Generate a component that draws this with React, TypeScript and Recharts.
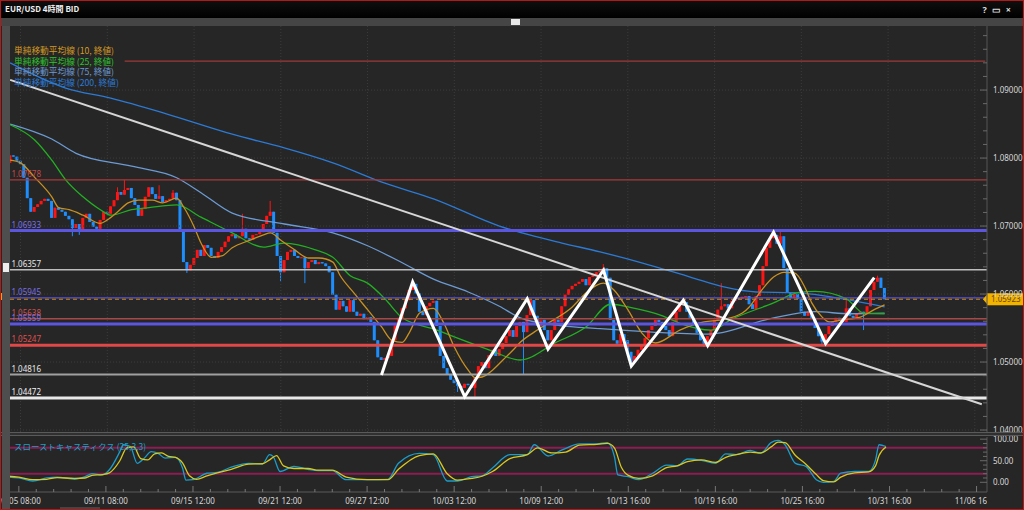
import React from "react";
import { Bar, ComposedChart, Line, ReferenceLine, XAxis, YAxis } from "recharts";

const FONT = "'Noto Sans', 'Noto Sans CJK JP', sans-serif";
const JP = "'Noto Sans CJK JP', 'Noto Sans', sans-serif";

// 4h candles, open = previous close
const firstOpen = 1.0793;
const closes = [
  1.0804, 1.0802, 1.0796, 1.0791, 1.0771, 1.0741, 1.0721, 1.0728, 1.0732, 1.0737,
  1.074, 1.0737, 1.0712, 1.0727, 1.0724, 1.0721, 1.0715, 1.071, 1.0697, 1.0703,
  1.0694, 1.0712, 1.0718, 1.0706, 1.0699, 1.0696, 1.0709, 1.0721, 1.0718, 1.0729,
  1.0738, 1.075, 1.0746, 1.0753, 1.0756, 1.0741, 1.0731, 1.0715, 1.0725, 1.0743,
  1.0757, 1.0747, 1.074, 1.0744, 1.0735, 1.0738, 1.074, 1.0749, 1.0738, 1.0694,
  1.0647, 1.0635, 1.0643, 1.0653, 1.0665, 1.0656, 1.0672, 1.0668, 1.0656, 1.0653,
  1.0662, 1.0669, 1.0677, 1.0685, 1.0688, 1.0682, 1.0685, 1.0696, 1.0682, 1.068,
  1.0687, 1.0688, 1.0691, 1.0703, 1.0715, 1.0721, 1.069, 1.0656, 1.0632, 1.065,
  1.0662, 1.0665, 1.0656, 1.0653, 1.0654, 1.0638, 1.0647, 1.065, 1.0644, 1.0647,
  1.0645, 1.0641, 1.0632, 1.0599, 1.0577, 1.059, 1.0582, 1.0574, 1.0591, 1.0574,
  1.0568, 1.0571, 1.0563, 1.0566, 1.0559, 1.0532, 1.0507, 1.0503, 1.0506, 1.0509,
  1.0532, 1.0554, 1.0565, 1.0579, 1.0591, 1.0606, 1.0615, 1.0601, 1.0574, 1.0569,
  1.0582, 1.0587, 1.059, 1.0553, 1.0509, 1.0491, 1.0482, 1.0474, 1.0469, 1.0465,
  1.0462, 1.0468, 1.0466, 1.0462, 1.0477, 1.0494, 1.05, 1.0491, 1.051, 1.0518,
  1.0509, 1.0519, 1.0528, 1.0538, 1.0547, 1.0537, 1.0553, 1.0559, 1.0544, 1.0569,
  1.0591, 1.0568, 1.0553, 1.0562, 1.0547, 1.0532, 1.0547, 1.0562, 1.0559, 1.0582,
  1.0599, 1.0607, 1.0612, 1.0615, 1.0618, 1.0622, 1.0613, 1.0625, 1.0628, 1.0632,
  1.0634, 1.0638, 1.0624, 1.0562, 1.0532, 1.0527, 1.0541, 1.0532, 1.0515, 1.05,
  1.0509, 1.0518, 1.0525, 1.0535, 1.0547, 1.0553, 1.0562, 1.0559, 1.0553, 1.0547,
  1.0538, 1.0559, 1.0574, 1.0584, 1.0588, 1.0574, 1.0565, 1.0554, 1.0543, 1.0532,
  1.0527, 1.0538, 1.0547, 1.0562, 1.0577, 1.0582, 1.0585, 1.0579, 1.059, 1.0594,
  1.0593, 1.0596, 1.0597, 1.0585, 1.0578, 1.0597, 1.0613, 1.0641, 1.0668, 1.0682,
  1.0687, 1.0674, 1.0685, 1.0638, 1.0603, 1.0594, 1.06, 1.0593, 1.0574, 1.0568,
  1.0574, 1.0565, 1.055, 1.0538, 1.053, 1.0541, 1.0553, 1.0559, 1.0565, 1.0562,
  1.0559, 1.0579, 1.0568, 1.0565, 1.0571, 1.0574, 1.0571, 1.0582, 1.0606, 1.0618,
  1.0624, 1.0609, 1.05923,
];
const wickHighs = [
  [31, 1.0757], [33, 1.0768], [43, 1.076], [47, 1.0753], [67, 1.0718], [75, 1.0737],
  [116, 1.0619], [171, 1.0644], [194, 1.0594], [205, 1.0616], [220, 1.0694],
  [222, 1.0693], [241, 1.0594], [250, 1.0627],
];
const wickLows = [
  [18, 1.0685], [20, 1.0687], [51, 1.0631], [78, 1.0619], [85, 1.0616], [129, 1.0456],
  [134, 1.0449], [148, 1.0481], [179, 1.0494], [200, 1.0522], [234, 1.0524], [246, 1.0547],
];

// moving averages, read at candle index
const sma10 = [
  [0, 1.0797], [3, 1.0793], [7, 1.0772], [12, 1.0743], [14, 1.0727], [17, 1.0724], [21, 1.0716],
  [26, 1.0704], [28, 1.0709], [31, 1.0721], [34, 1.0734], [37, 1.0738], [41, 1.0738], [44, 1.0734],
  [48, 1.0741], [50, 1.0728], [53, 1.0699], [55, 1.0675], [58, 1.0654], [61, 1.0656], [64, 1.0668],
  [69, 1.0679], [73, 1.0687], [75, 1.069], [78, 1.0679], [82, 1.0665], [86, 1.0653], [89, 1.0653],
  [93, 1.0647], [95, 1.0628], [99, 1.0602], [103, 1.0577], [107, 1.0552], [110, 1.0532], [113, 1.0529],
  [115, 1.0543], [118, 1.0572], [122, 1.0579], [125, 1.0557], [128, 1.0522], [132, 1.0488],
  [134, 1.0477], [136, 1.0478], [139, 1.0488], [142, 1.0503], [145, 1.0518], [147, 1.0529],
  [151, 1.0544], [155, 1.0557], [162, 1.0581], [166, 1.0602], [171, 1.0616], [174, 1.0606],
  [178, 1.0577], [182, 1.0543], [186, 1.0528], [193, 1.0547], [200, 1.0559], [205, 1.0562],
  [211, 1.0572], [213, 1.0581], [216, 1.0602], [220, 1.0625], [223, 1.0632], [226, 1.0631],
  [229, 1.061], [231, 1.0587], [234, 1.0566], [236, 1.0559], [240, 1.0562], [245, 1.0566],
  [249, 1.0577], [252, 1.0584],
];
const sma25 = [
  [0, 1.0849], [7, 1.0827], [12, 1.0797], [16, 1.0768], [21, 1.0743], [26, 1.0724], [29, 1.0716],
  [35, 1.0724], [40, 1.0727], [48, 1.0731], [55, 1.0713], [64, 1.069], [73, 1.0669], [79, 1.0675],
  [88, 1.0665], [93, 1.0654], [98, 1.0627], [103, 1.0616], [108, 1.0593], [113, 1.0565],
  [123, 1.0547], [128, 1.0537], [138, 1.0518], [147, 1.0503], [157, 1.0528], [166, 1.0552],
  [173, 1.0585], [179, 1.058], [188, 1.0568], [193, 1.0557], [202, 1.0547], [208, 1.0563],
  [220, 1.0587], [227, 1.0602], [232, 1.0604], [241, 1.0593], [246, 1.0572], [252, 1.0571],
];
const sma75 = [
  [0, 1.085], [12, 1.0828], [19, 1.0807], [35, 1.0788], [48, 1.0771], [55, 1.0749], [64, 1.0719],
  [79, 1.0703], [93, 1.069], [103, 1.0671], [113, 1.0646], [122, 1.0622], [132, 1.0603],
  [141, 1.0582], [147, 1.0565], [158, 1.0554], [170, 1.0549], [185, 1.0544], [201, 1.0541],
  [220, 1.0565], [232, 1.0574], [242, 1.0571], [252, 1.0572],
];
const sma200 = [
  [0, 1.094], [16, 1.0903], [29, 1.0888], [45, 1.0865], [64, 1.0835], [79, 1.0815], [93, 1.0793],
  [108, 1.0763], [122, 1.074], [141, 1.07], [151, 1.0685], [159, 1.0675], [170, 1.0662],
  [182, 1.0646], [196, 1.0625], [206, 1.061], [215, 1.0603], [226, 1.0602], [242, 1.0591],
  [252, 1.0581],
];

// hand-drawn lines
const trendline = [[0, 1.0915], [280, 1.0438]];
const zigzag = [
  [107, 1.0481], [116, 1.0618], [131, 1.0449], [149, 1.0593], [155, 1.0519], [171, 1.0635],
  [179, 1.0494], [194, 1.0591], [201, 1.0524], [220, 1.0691], [235, 1.0527], [249, 1.0624],
];

// slow stochastics (25,3,3)
const stochK = [
  [0, 12], [3, 10], [7, 3], [11, 10], [14, 12], [19, 7], [22, 13], [24, 20], [27, 17], [29, 29],
  [32, 71], [33, 87], [35, 83], [37, 44], [39, 56], [41, 71], [43, 67], [45, 56], [48, 58],
  [50, 33], [51, 5], [53, 6], [57, 21], [60, 23], [64, 35], [69, 44], [73, 43], [75, 64], [76, 60],
  [78, 25], [82, 37], [86, 30], [89, 27], [93, 27], [97, 6], [103, 6], [109, 7], [112, 44],
  [118, 67], [122, 64], [126, 3], [129, 3], [133, 13], [136, 15], [139, 33], [144, 64], [149, 64],
  [151, 87], [155, 61], [159, 75], [164, 89], [169, 89], [172, 92], [174, 60], [175, 17],
  [178, 13], [181, 6], [185, 21], [189, 40], [192, 38], [195, 54], [199, 51], [203, 44],
  [206, 66], [209, 64], [213, 74], [216, 67], [219, 92], [221, 97], [223, 87], [226, 44],
  [229, 37], [232, 6], [234, 0], [237, 2], [239, 21], [243, 25], [247, 25], [249, 52], [250, 87],
  [252, 83],
];
const stochD = [
  [0, 14], [3, 12], [7, 6], [11, 7], [14, 11], [19, 9], [22, 10], [24, 16], [27, 18], [29, 22],
  [32, 50], [34, 80], [36, 82], [38, 55], [40, 52], [42, 66], [44, 68], [46, 60], [48, 58],
  [50, 45], [52, 15], [54, 7], [57, 15], [60, 22], [64, 30], [69, 42], [73, 43], [75, 52],
  [77, 62], [79, 38], [82, 32], [86, 32], [89, 28], [93, 28], [97, 12], [103, 6], [109, 6],
  [112, 30], [118, 62], [122, 66], [126, 20], [129, 5], [133, 9], [136, 14], [139, 25], [144, 55],
  [149, 64], [152, 80], [156, 68], [160, 70], [164, 86], [169, 88], [172, 90], [174, 80],
  [176, 35], [178, 16], [181, 9], [185, 15], [189, 34], [192, 38], [195, 48], [199, 52],
  [203, 46], [206, 58], [209, 64], [213, 70], [216, 68], [219, 82], [221, 93], [223, 92],
  [226, 62], [229, 42], [232, 18], [234, 4], [237, 1], [239, 12], [243, 22], [247, 24], [249, 38],
  [250, 62], [252, 82],
];

const levelPrices = [1.09426, 1.07678, 1.06933, 1.06357, 1.05945, 1.05638, 1.05559, 1.05247, 1.04816, 1.04472];
const levelLabels = ["", "1.07678", "1.06933", "1.06357", "1.05945", "1.05638", "1.05559", "1.05247", "1.04816", "1.04472"];
const lastPrice = 1.05923;

const tickIdx = [3, 28, 53, 78, 103, 128, 153, 178, 203, 228, 253, 278];
const tickLabels = [
  "09/05 08:00", "09/11 08:00", "09/15 12:00", "09/21 12:00", "09/27 12:00", "10/03 12:00",
  "10/09 12:00", "10/13 16:00", "10/19 16:00", "10/25 16:00", "10/31 16:00", "11/06 16:00",
];
const priceMajors = [1.04, 1.05, 1.06, 1.07, 1.08, 1.09];
const stochMajors = [0, 50, 100];
const stochBands = [20, 80];

const legendItems = [
  "単純移動平均線 (10, 終値)",
  "単純移動平均線 (25, 終値)",
  "単純移動平均線 (75, 終値)",
  "単純移動平均線 (200, 終値)",
];

// styling
const levelStyle = [
  { stroke: "#9e3838", w: 1.2, text: "#c84848" },
  { stroke: "#a83a3a", w: 1.2, text: "#c84848" },
  { stroke: "#5b55e0", w: 3, text: "#7a70e6" },
  { stroke: "#bdbdbd", w: 1.5, text: "#e8e8e8" },
  { stroke: "#5b55e0", w: 1.2, text: "#7a70e6" },
  { stroke: "#a84848", w: 1.5, text: "#d05050" },
  { stroke: "#5b55e0", w: 3, text: "#7a70e6" },
  { stroke: "#e04848", w: 3, text: "#e05050" },
  { stroke: "#a0a0a0", w: 2, text: "#e8e8e8" },
  { stroke: "#e8e8e8", w: 3, text: "#f2f2f2" },
];
const legendColors = ["#d49a22", "#2fc12f", "#6c9ad2", "#2c7ad4"];
const UP = "#ff1414";
const DOWN = "#1e8eff";
const BG = "#262626";

const SLOTS = 282;
const rows: any[] = [];
for (let k = 0; k < SLOTS; k++) rows.push({ k });
closes.forEach((c, k) => {
  const o = k === 0 ? firstOpen : closes[k - 1];
  rows[k].o = o;
  rows[k].c = c;
  rows[k].hi = Math.max(o, c);
  rows[k].lo = Math.min(o, c);
});
wickHighs.forEach(([k, p]) => (rows[k].hi = Math.max(rows[k].hi, p)));
wickLows.forEach(([k, p]) => (rows[k].lo = Math.min(rows[k].lo, p)));
closes.forEach((_, k) => (rows[k].range = [rows[k].lo, rows[k].hi]));
const put = (key: string, pts: number[][]) => pts.forEach(([k, v]) => (rows[k][key] = v));
put("m10", sma10);
put("m25", sma25);
put("m75", sma75);
put("m200", sma200);
put("trend", trendline);
put("zig", zigzag);
put("sk", stochK);
put("sd", stochD);

const priceTicks: number[] = [];
for (let i = 0; i <= 29; i++) priceTicks.push(Math.round((1.04 + i * 0.002) * 1000) / 1000);
const timeTicks: number[] = [];
for (let k = 3; k <= 278; k += 5) timeTicks.push(k);
const stochTicks: number[] = [];
for (let v = 0; v <= 100; v += 10) stochTicks.push(v);

const Candle = (props: any) => {
  const { x, y, width, height, payload } = props;
  if (!payload || payload.o == null) return null;
  const top = Math.min(y, y + height);
  const h = Math.abs(height);
  const span = payload.hi - payload.lo;
  const py = (v: number) => (span > 0 ? top + ((payload.hi - v) / span) * h : top);
  const up = payload.c >= payload.o;
  const color = up ? UP : DOWN;
  const bTop = py(Math.max(payload.o, payload.c));
  const bBot = py(Math.min(payload.o, payload.c));
  const cx = x + width / 2;
  return (
    <g>
      <line x1={cx} x2={cx} y1={top} y2={top + h} stroke={color} strokeWidth={1} />
      <rect x={x} y={bTop} width={width} height={Math.max(1, bBot - bTop)} fill={color} />
    </g>
  );
};

const LevelLabel = (props: any) => {
  const { viewBox, txt, color } = props;
  if (!viewBox || !txt) return null;
  return (
    <text x={viewBox.x + 3} y={viewBox.y - 3} fill={color} fontSize={8} fontFamily={FONT}>
      {txt}
    </text>
  );
};

const PriceFlag = (props: any) => {
  const { viewBox, txt } = props;
  if (!viewBox) return null;
  const vx = viewBox.x + viewBox.width;
  const vy = viewBox.y;
  return (
    <g>
      <polygon points={`${vx - 4},${vy} ${vx + 1},${vy - 6} ${vx + 1},${vy + 6}`} fill="#f2b300" />
      <rect x={vx} y={vy - 6} width={37} height={12} fill="#f2b300" />
      <text x={vx + 4} y={vy + 3} fill="#6b4500" fontSize={8} fontFamily={FONT}>
        {txt}
      </text>
    </g>
  );
};

const PriceTick = (props: any) => {
  const { x, y, payload } = props;
  const v = payload.value;
  const major = priceMajors.some((m) => Math.abs(m - v) < 1e-6);
  return (
    <g>
      <line x1={x - (major ? 7 : 4)} x2={x} y1={y} y2={y} stroke="#6a6a6a" />
      {major && (
        <text x={x + 6} y={y + 3} fill="#d8d8d8" fontSize={8} fontFamily={FONT}>
          {v.toFixed(5)}
        </text>
      )}
    </g>
  );
};

const StochTick = (props: any) => {
  const { x, y, payload } = props;
  const v = payload.value;
  const major = stochMajors.includes(v);
  return (
    <g>
      <line x1={x - (major ? 7 : 4)} x2={x} y1={y} y2={y} stroke="#6a6a6a" />
      {major && (
        <text x={x + 6} y={y + 3} fill="#d8d8d8" fontSize={8} fontFamily={FONT}>
          {v.toFixed(2)}
        </text>
      )}
    </g>
  );
};

const TimeTick = (props: any) => {
  const { x, y, payload } = props;
  const i = tickIdx.indexOf(payload.value);
  const major = i >= 0;
  return (
    <g>
      <line x1={x} x2={x} y1={y - (major ? 6 : 3)} y2={y} stroke="#777" />
      {major && (
        <text x={x} y={y + 12} textAnchor="middle" fill="#d8d8d8" fontSize={8} fontFamily={FONT}>
          {tickLabels[i]}
        </text>
      )}
    </g>
  );
};

const MARGIN = { top: 0, right: 0, bottom: 0, left: 8.4 };

export default function App() {
  return (
    <div
      style={{
        position: "relative",
        width: 1024,
        height: 510,
        background: BG,
        overflow: "hidden",
        fontFamily: FONT,
      }}
    >
      <style>{"body{margin:0;background:#262626}"}</style>

      {/* title bar */}
      <div
        style={{
          position: "absolute", left: 0, top: 0, width: 1024, height: 18,
          background: "linear-gradient(#101010,#000)",
        }}
      />
      <div style={{ position: "absolute", left: 5, top: 3, color: "#f0f0f0", fontSize: 8, fontFamily: JP, fontWeight: 600 }}>
        EUR/USD 4時間 BID
      </div>
      <div style={{ position: "absolute", right: 8, top: 3, color: "#ddd", fontSize: 9, letterSpacing: 5, fontWeight: 700 }}>
        ?▭×
      </div>
      <div style={{ position: "absolute", left: 0, top: 18, width: 1024, height: 8, background: "#454545" }} />
      <div style={{ position: "absolute", left: 511, top: 19, width: 9, height: 6, background: "#e8e8e8" }} />

      {/* main price panel */}
      <div style={{ position: "absolute", left: 0, top: 26 }}>
        <ComposedChart width={1024} height={406} data={rows} margin={MARGIN} barCategoryGap={0}>
          <XAxis dataKey="k" type="category" hide />
          <YAxis
            orientation="right"
            width={37}
            domain={[1.03971, 1.09942]}
            allowDataOverflow
            ticks={priceTicks}
            interval={0}
            tickSize={0}
            tickMargin={0}
            tickLine={false}
            axisLine={{ stroke: "#555" }}
            tick={<PriceTick />}
          />
          {tickIdx.map((k) => (
            <ReferenceLine key={"vx" + k} x={k} stroke="#3c3c3c" strokeDasharray="1 2" />
          ))}
          {priceMajors.map((p) => (
            <ReferenceLine key={"hy" + p} y={p} stroke="#3c3c3c" strokeDasharray="1 2" />
          ))}
          <Bar dataKey="range" barSize={3} shape={<Candle />} isAnimationActive={false} />
          <Line dataKey="m200" type="monotone" stroke={legendColors[3]} strokeWidth={1.3} dot={false} connectNulls isAnimationActive={false} />
          <Line dataKey="m75" type="monotone" stroke={legendColors[2]} strokeWidth={1.3} dot={false} connectNulls isAnimationActive={false} />
          <Line dataKey="m25" type="monotone" stroke="#22b022" strokeWidth={1.3} dot={false} connectNulls isAnimationActive={false} />
          <Line dataKey="m10" type="monotone" stroke="#c89020" strokeWidth={1.3} dot={false} connectNulls isAnimationActive={false} />
          {levelPrices.map((p, i) =>
            i === 0 ? (
              <ReferenceLine
                key={"lv" + i}
                segment={[{ x: 33, y: p }, { x: SLOTS - 1, y: p }]}
                stroke={levelStyle[i].stroke}
                strokeWidth={levelStyle[i].w}
              />
            ) : (
              <ReferenceLine
                key={"lv" + i}
                y={p}
                stroke={levelStyle[i].stroke}
                strokeWidth={levelStyle[i].w}
                label={<LevelLabel txt={levelLabels[i]} color={levelStyle[i].text} />}
              />
            )
          )}
          <ReferenceLine
            y={lastPrice}
            stroke="#d08a00"
            strokeWidth={1.2}
            strokeDasharray="4 3"
            label={<PriceFlag txt={lastPrice.toFixed(5)} />}
          />
          <Line dataKey="trend" type="linear" stroke="#d6d6d6" strokeWidth={2} dot={false} connectNulls isAnimationActive={false} />
          <Line dataKey="zig" type="linear" stroke="#ffffff" strokeWidth={3} dot={false} connectNulls isAnimationActive={false} />
        </ComposedChart>
      </div>

      {/* legend */}
      <div style={{ position: "absolute", left: 14, top: 46, fontFamily: JP, fontSize: 8.7, lineHeight: "10.5px" }}>
        {legendItems.map((t, i) => (
          <div key={t} style={{ color: legendColors[i], whiteSpace: "nowrap" }}>
            {t}
          </div>
        ))}
      </div>

      {/* separator */}
      <div style={{ position: "absolute", left: 0, top: 432, width: 1024, height: 4, background: "#303030", borderTop: "1px solid #5a5a5a", borderBottom: "1px solid #5a5a5a", boxSizing: "border-box" }} />

      {/* stochastics panel */}
      <div style={{ position: "absolute", left: 0, top: 436 }}>
        <ComposedChart width={1024} height={74} data={rows} margin={{ ...MARGIN, top: 1 }}>
          <XAxis
            dataKey="k"
            type="category"
            ticks={timeTicks}
            interval={0}
            tickSize={0}
            tickMargin={0}
            tickLine={false}
            height={18}
            axisLine={{ stroke: "#5a5a5a" }}
            tick={<TimeTick />}
          />
          <YAxis
            orientation="right"
            width={37}
            domain={[-22.5, 105]}
            allowDataOverflow
            ticks={stochTicks}
            interval={0}
            tickSize={0}
            tickMargin={0}
            tickLine={false}
            axisLine={{ stroke: "#555" }}
            tick={<StochTick />}
          />
          {stochBands.map((v) => (
            <ReferenceLine key={"sb" + v} y={v} stroke="#8c1c52" strokeWidth={2} />
          ))}
          <Line dataKey="sk" type="monotone" stroke="#1c9cc8" strokeWidth={1.3} dot={false} connectNulls isAnimationActive={false} />
          <Line dataKey="sd" type="monotone" stroke="#d8c820" strokeWidth={1.3} dot={false} connectNulls isAnimationActive={false} />
        </ComposedChart>
      </div>
      <div style={{ position: "absolute", left: 14, top: 440, color: "#1aa0c8", fontFamily: JP, fontSize: 8.5, whiteSpace: "nowrap" }}>
        スローストキャスティクス (25,3,3)
      </div>

      {/* frame pieces */}
      <div style={{ position: "absolute", left: 987, top: 493, width: 37, height: 17, background: BG }} />
      <div style={{ position: "absolute", left: 2, top: 26, width: 8, height: 484, background: "#4e4e4e" }} />
      <div style={{ position: "absolute", left: 3, top: 263, width: 6, height: 9, background: "#eeeeee" }} />
      <div style={{ position: "absolute", left: 0, top: 293, width: 2, height: 7, background: "#f2a000" }} />
      <div style={{ position: "absolute", left: 60, top: 507, width: 40, height: 2, background: "#444" }} />
      <div style={{ position: "absolute", left: 0, top: 0, width: 1024, height: 510, border: "1.5px solid #b41818", boxSizing: "border-box", pointerEvents: "none" }} />
    </div>
  );
}
